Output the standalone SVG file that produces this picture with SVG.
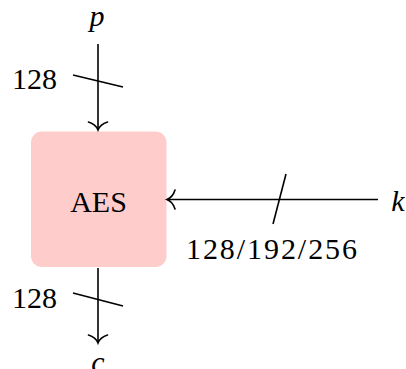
<svg xmlns="http://www.w3.org/2000/svg" width="406" height="369" viewBox="0 0 406 369">
<style>
text{font-family:'Liberation Serif','Times New Roman',Tinos,'DejaVu Serif',serif;font-size:30px;fill:#000}
.i{font-style:italic}
.ln{stroke:#000;stroke-width:1.6;fill:none}
</style>
<defs>
<marker id="to" markerUnits="userSpaceOnUse" markerWidth="20" markerHeight="24" viewBox="-10 -12 12 24" refX="0" refY="0" orient="auto">
<path d="M -8 -9.5 C -6 -3 -2 -0.8 0 0 C -2 0.8 -6 3 -8 9.5" stroke="#000" stroke-width="1.6" fill="none" stroke-linecap="round"/>
</marker>
</defs>
<rect width="406" height="369" fill="#fff"/>
<g id="aes">
<rect x="31" y="131.5" width="135.5" height="135.5" rx="11" fill="#ffcccc"/>
<text font-family="Liberation Serif, serif" x="98.5" y="211.5" text-anchor="middle">AES</text>
</g>
<g id="p"><text font-family="Liberation Serif, serif" class="i" x="97" y="26" text-anchor="middle">p</text></g>
<g id="c"><text font-family="Liberation Serif, serif" class="i" x="98" y="372" text-anchor="middle">c</text></g>
<g id="k"><text font-family="Liberation Serif, serif" class="i" x="398" y="211" text-anchor="middle">k</text></g>
<g id="connectors">
<line class="ln" x1="98" y1="44" x2="98" y2="130" marker-end="url(#to)"/>
<line class="ln" x1="73" y1="75" x2="123" y2="87"/>
<text font-family="Liberation Serif, serif" x="12" y="89">128</text>
<line class="ln" x1="98" y1="268" x2="98" y2="343" marker-end="url(#to)"/>
<line class="ln" x1="73" y1="293" x2="123" y2="306"/>
<text font-family="Liberation Serif, serif" x="12" y="308">128</text>
<line class="ln" x1="378" y1="199.5" x2="167" y2="199.5" marker-end="url(#to)"/>
<line class="ln" x1="286" y1="174" x2="273" y2="224"/>
<text font-family="Liberation Serif, serif" x="186" y="259" textLength="171" lengthAdjust="spacing">128/192/256</text>
</g>
</svg>
